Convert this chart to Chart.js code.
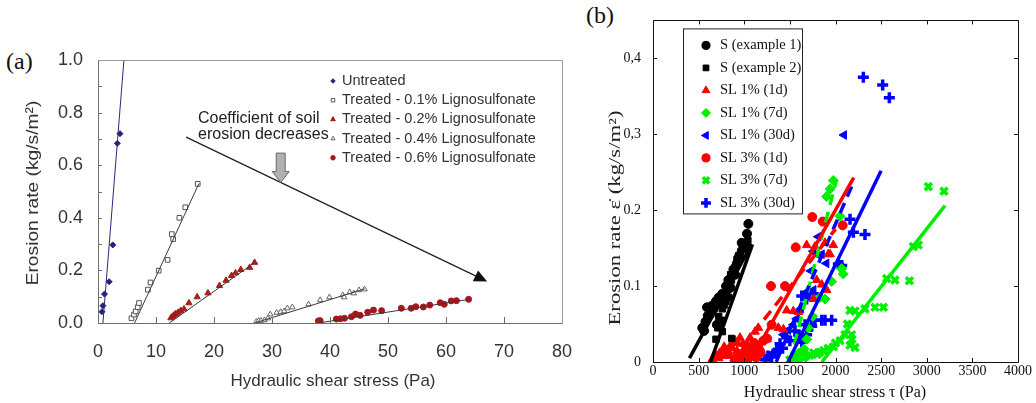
<!DOCTYPE html>
<html>
<head>
<meta charset="utf-8">
<title>Erosion rate vs hydraulic shear stress</title>
<script src="https://cdn.jsdelivr.net/npm/chart.js@4.4.1/dist/chart.umd.min.js"></script>
<style>
  body { margin: 0; background: #fff; width: 1036px; height: 403px; position: relative; overflow: hidden; }
  canvas { position: absolute; top: 0; }
  #chartA { left: 0; }
  #chartB { left: 580px; }
  .tag { position: absolute; font-family: "Liberation Serif", "Times New Roman", serif; font-size: 24px; line-height: 24px; color: #111; }
</style>
</head>
<body>
<div class="tag" style="left:6px; top:49px">(a)</div>
<div class="tag" style="left:586px; top:3px">(b)</div>
<canvas id="chartA" width="590" height="403"></canvas>
<canvas id="chartB" width="456" height="403"></canvas>
<script>
/* ---- (a) lignosulfonate dosage, [shear stress Pa, erosion rate kg/s/m2] ---- */
const untreatedPts = [[0.68,0.043],[0.85,0.066],[1.12,0.11],[1.92,0.157],[2.55,0.297],[3.33,0.683],[3.79,0.72]];
const ligno01Pts = [[5.77,0.018],[6.2,0.032],[6.5,0.044],[6.85,0.06],[7.07,0.076],[8.6,0.127],[9.05,0.154],
  [10.47,0.199],[12.0,0.24],[12.73,0.338],[12.96,0.319],[14.03,0.40],[15.05,0.44],[17.2,0.529]];
const ligno02Pts = [[12.56,0.019],[12.85,0.025],[13.13,0.03],[13.41,0.035],[13.81,0.04],[14.26,0.047],[14.83,0.053],
  [15.68,0.076],[17.09,0.099],[18.96,0.114],[20.94,0.142],[22.07,0.162],[23.03,0.18],[23.71,0.19],[24.62,0.203],
  [26.15,0.211],[27.0,0.23]];
const ligno04Pts = [[27.3,0.005],[27.7,0.008],[28.1,0.009],[28.7,0.011],[29.3,0.018],[29.7,0.033],[30.8,0.039],
  [31.5,0.042],[32.1,0.045],[32.65,0.056],[33.5,0.06],[36.3,0.071],[38.3,0.087],[39.9,0.098],[42.2,0.106],
  [42.45,0.098],[43.4,0.117],[44.1,0.113],[45.0,0.125],[45.95,0.128]];
const ligno06Pts = [[38.0,0.008],[38.3,0.009],[41.1,0.015],[41.8,0.016],[42.5,0.018],[43.7,0.024],[44.4,0.034],
  [45.2,0.029],[46.5,0.041],[47.5,0.049],[48.9,0.047],[52.3,0.056],[54.0,0.056],[54.8,0.062],[56.1,0.061],
  [57.2,0.068],[59.0,0.077],[59.7,0.071],[60.9,0.084],[61.8,0.085],[63.9,0.09]];

// fitted lines (end points)
const untreatedFit = [[0.85,0],[4.47,1.0]];
const ligno01Fit = [[6.3,0],[17.4,0.53]];
const ligno02Fit = [[12.3,0],[27.0,0.23]];
const ligno04Fit = [[27.0,0],[46.0,0.13]];
const ligno06Fit = [[38.0,0],[64.0,0.09]];

const xTicksA = [0, 80, 10];           // min, max, step
const yTicksA = [0, 1, 0.1];

/* ---- (b) sand vs sand + lignosulfonate, [shear stress Pa, erosion rate kg/s/m2] ---- */
const sEx1Pts = [[540,0.045],[560,0.041],[575,0.053],[600,0.061],[592,0.072],[622,0.062],[645,0.074],[665,0.07],
  [700,0.049],[690,0.08],[720,0.085],[742,0.078],[760,0.09],[789,0.089],[800,0.1],[826,0.108],[850,0.098],
  [881,0.122],[900,0.115],[920,0.13],[945,0.14],[972,0.157],[990,0.15],[1030,0.169],[1045,0.182]];
const sEx2Pts = [[690,0.03],[862,0.031],[710,0.045],[730,0.05],[760,0.04],[720,0.06],[750,0.055],[760,0.07],
  [780,0.075],[800,0.08],[790,0.09],[830,0.085],[820,0.095],[840,0.1],[860,0.108],[850,0.115],[880,0.12],
  [900,0.125],[920,0.135],[940,0.14],[960,0.145],[980,0.15],[1000,0.155],[1020,0.157],[1040,0.16]];
const sl1d1Pts = [[650,0.004],[680,0.01],[698,0.007],[720,0.005],[730,0.012],[760,0.008],[767,0.015],[780,0.02],
  [800,0.01],[820,0.015],[840,0.02],[850,0.008],[870,0.018],[880,0.025],[900,0.028],[920,0.015],[930,0.025],
  [953,0.032],[986,0.024],[1020,0.02],[1040,0.01],[1063,0.032],[1100,0.015],[1118,0.04],[1154,0.045],[1173,0.019],
  [1250,0.03],[1374,0.045],[1429,0.043],[1465,0.068],[1538,0.067],[1593,0.066],[1684,0.154],[1775,0.152],
  [1794,0.108],[1849,0.102],[1758,0.083],[1885,0.157],[1921,0.142],[1903,0.095],[1976,0.154],[1940,0.142]];
const sl1d7Pts = [[1550,0.005],[1600,0.012],[1655,0.017],[1684,0.03],[1700,0.045],[1750,0.06],[1830,0.085],
  [1885,0.083],[1958,0.106],[2068,0.123],[2085,0.116],[2049,0.192],[1903,0.218],[1940,0.228],[1976,0.239]];
const sl1d30Pts = [[1429,0.036],[1480,0.042],[1538,0.049],[1575,0.057],[1620,0.07],[1666,0.091],[1700,0.089],
  [1758,0.095],[1730,0.12],[1758,0.146],[1794,0.142],[1812,0.165],[1849,0.142],[1900,0.13],[2093,0.299]];
const sl3d1Pts = [[900,0.003],[930,0.01],[960,0.004],[989,0.007],[1026,0.003],[1000,0.013],[1040,0.02],
  [1063,0.015],[1090,0.01],[1110,0.025],[1130,0.006],[1150,0.02],[1180,0.012],[1209,0.028],[1250,0.031],
  [1300,0.049],[1293,0.1],[1447,0.1],[1564,0.151],[1746,0.191],[1860,0.185],[2079,0.18]];
const sl3d7Pts = [[1500,0.003],[1560,0.004],[1600,0.006],[1648,0.005],[1680,0.008],[1720,0.009],[1760,0.012],
  [1800,0.01],[1830,0.013],[1870,0.015],[1920,0.018],[1976,0.02],[2000,0.025],[2050,0.028],[2104,0.036],
  [2130,0.05],[2159,0.022],[2180,0.03],[2177,0.036],[2214,0.019],[2159,0.068],[2214,0.067],[2323,0.07],
  [2433,0.072],[2525,0.072],[2561,0.11],[2652,0.108],[2810,0.107],[2853,0.152],[2908,0.154],[3017,0.231],[3189,0.225]];
const sl3d30Pts = [[1227,0.003],[1260,0.008],[1300,0.007],[1330,0.012],[1356,0.015],[1392,0.024],[1420,0.018],
  [1465,0.032],[1500,0.028],[1556,0.041],[1600,0.035],[1630,0.026],[1666,0.049],[1684,0.036],[1739,0.047],
  [1775,0.055],[1849,0.055],[1885,0.055],[1958,0.055],[1630,0.087],[1684,0.083],[1758,0.09],[2031,0.129],
  [2068,0.127],[2159,0.188],[2196,0.171],[2323,0.168],[2305,0.375],[2517,0.365],[2590,0.348]];

// fitted lines (end points)
const sEx1Fit = [[400,0.005],[1080,0.155]];
const sEx2Fit = [[630,0],[1090,0.155]];
const sl3d1Fit = [[1060,0],[2200,0.243]];
const sl1d1Fit = [[850,0],[2000,0.175]];
const sl3d30Fit = [[1480,0],[2500,0.252]];
const sl1d30Fit = [[1350,0],[2190,0.235]];
const sl1d7Fit = [[1500,0],[2010,0.24]];
const sl3d7Fit = [[1850,0],[3200,0.206]];

const xTicksB = [0, 4000, 500];
const yTicksB = [0, 0.45, 0.1];
const yLabelsB = ["0", "0.1", "0.2", "0,3", "0,4"];

const SANS = "'Liberation Sans', Arial, sans-serif";
const SERIF = "'Liberation Serif', 'Times New Roman', serif";

const toXY = (list) => list.map(([x, y]) => ({ x, y }));

function pointSet(label, list, style) {
  return Object.assign({ label, data: toXY(list), showLine: false, order: 1 }, style);
}

function fitSet(list, color, width, dash) {
  return {
    data: toXY(list), showLine: true, pointRadius: 0, borderColor: color,
    borderWidth: width, borderDash: dash || [], order: 0
  };
}

// box round the plot area, with short inward tick marks
const frameTicks = {
  id: "frameTicks",
  afterDatasetsDraw(chart, args, o) {
    const { ctx, chartArea: a, scales: { x, y } } = chart;
    ctx.save();
    ctx.lineWidth = 1;
    ctx.strokeStyle = o.color;
    ctx.beginPath();
    x.ticks.forEach((t) => {
      const px = Math.round(x.getPixelForValue(t.value)) + 0.5;
      ctx.moveTo(px, a.bottom); ctx.lineTo(px, a.bottom - o.lenX);
      if (o.allSides) { ctx.moveTo(px, a.top); ctx.lineTo(px, a.top + o.lenX); }
    });
    y.ticks.forEach((t) => {
      const py = Math.round(y.getPixelForValue(t.value)) + 0.5;
      ctx.moveTo(a.left, py); ctx.lineTo(a.left + o.lenY, py);
      if (o.allSides) { ctx.moveTo(a.right, py); ctx.lineTo(a.right - o.lenY, py); }
    });
    ctx.stroke();
    const l = Math.round(a.left) + 0.5, r = Math.round(a.right) + 0.5;
    const t = Math.round(a.top) + 0.5, b = Math.round(a.bottom) + 0.5;
    ctx.strokeStyle = o.edgeColor || o.color;
    ctx.beginPath();
    ctx.moveTo(l, t); ctx.lineTo(r, t); ctx.lineTo(r, b);
    ctx.stroke();
    ctx.strokeStyle = o.color;
    ctx.beginPath();
    ctx.moveTo(l, t); ctx.lineTo(l, b); ctx.lineTo(r, b);
    ctx.stroke();
    ctx.restore();
  }
};

// legend drawn inside the plot from the labelled datasets
const keyList = {
  id: "keyList",
  afterDraw(chart, args, o) {
    const { ctx, chartArea: a } = chart;
    const sets = chart.data.datasets.filter((d) => d.label);
    ctx.save();
    if (o.box) {
      ctx.fillStyle = "#fff";
      ctx.strokeStyle = "#222";
      ctx.lineWidth = 1;
      ctx.fillRect(a.left + o.box[0], a.top + o.box[1], o.box[2], o.box[3]);
      ctx.strokeRect(a.left + o.box[0] + 0.5, a.top + o.box[1] + 0.5, o.box[2], o.box[3]);
    }
    ctx.font = o.font;
    ctx.textBaseline = "middle";
    ctx.textAlign = "left";
    sets.forEach((d, i) => {
      const yy = a.top + o.top + i * o.gap;
      ctx.fillStyle = d.backgroundColor;
      ctx.strokeStyle = d.borderColor;
      ctx.lineWidth = d.borderWidth;
      Chart.helpers.drawPoint(ctx, {
        pointStyle: d.pointStyle, rotation: d.pointRotation || 0,
        radius: d.pointRadius * o.markScale, borderWidth: d.borderWidth
      }, a.left + o.markX, yy);
      ctx.fillStyle = o.color;
      ctx.fillText(d.label, a.left + o.textX, yy);
    });
    ctx.restore();
  }
};

// axis titles and notes, optionally stretched along the text
const captions = {
  id: "captions",
  afterDraw(chart, args, o) {
    const ctx = chart.ctx;
    o.items.forEach((c) => {
      ctx.save();
      ctx.font = c.font;
      ctx.fillStyle = c.color || "#000";
      ctx.textAlign = c.align || "center";
      ctx.textBaseline = "middle";
      ctx.translate(c.x, c.y);
      if (c.vertical) ctx.rotate(-Math.PI / 2);
      ctx.scale(c.stretch || 1, 1);
      ctx.fillText(c.text, 0, 0);
      ctx.restore();
    });
  }
};

// "coefficient decreases" arrows of panel (a)
const trendArrows = {
  id: "trendArrows",
  afterDraw(chart, args, o) {
    const { ctx, scales: { x, y } } = chart;
    const x0 = x.getPixelForValue(o.from[0]), y0 = y.getPixelForValue(o.from[1]);
    const x1 = x.getPixelForValue(o.to[0]), y1 = y.getPixelForValue(o.to[1]);
    const ang = Math.atan2(y1 - y0, x1 - x0);
    ctx.save();
    ctx.strokeStyle = "#222";
    ctx.fillStyle = "#111";
    ctx.lineWidth = 1.3;
    ctx.beginPath();
    ctx.moveTo(x0, y0);
    ctx.lineTo(x1 - 10 * Math.cos(ang), y1 - 10 * Math.sin(ang));
    ctx.stroke();
    ctx.beginPath();
    ctx.moveTo(x1, y1);
    ctx.lineTo(x1 - 13 * Math.cos(ang) + 6 * Math.sin(ang), y1 - 13 * Math.sin(ang) - 6 * Math.cos(ang));
    ctx.lineTo(x1 - 13 * Math.cos(ang) - 6 * Math.sin(ang), y1 - 13 * Math.sin(ang) + 6 * Math.cos(ang));
    ctx.closePath();
    ctx.fill();
    // grey block arrow pointing down
    const gx = x.getPixelForValue(o.block[0]);
    const gt = y.getPixelForValue(o.block[1]), gb = y.getPixelForValue(o.block[2]);
    const neck = gb - 11;
    ctx.fillStyle = "#b0b0b0";
    ctx.strokeStyle = "#6a6a6a";
    ctx.lineWidth = 1;
    ctx.beginPath();
    ctx.moveTo(gx - 4.5, gt); ctx.lineTo(gx + 4.5, gt); ctx.lineTo(gx + 4.5, neck);
    ctx.lineTo(gx + 8.5, neck); ctx.lineTo(gx, gb); ctx.lineTo(gx - 8.5, neck);
    ctx.lineTo(gx - 4.5, neck); ctx.closePath();
    ctx.fill(); ctx.stroke();
    ctx.restore();
  }
};

/* ---------- panel (a) ---------- */
const lineA = "#3a3a3a";
new Chart(document.getElementById("chartA"), {
  type: "scatter",
  data: {
    datasets: [
      pointSet("Untreated", untreatedPts, { pointStyle: "rectRot", pointRadius: 3, backgroundColor: "#23237a", borderColor: "#23237a", borderWidth: 1 }),
      pointSet("Treated - 0.1% Lignosulfonate", ligno01Pts, { pointStyle: "rect", pointRadius: 3.3, backgroundColor: "#fff", borderColor: "#555", borderWidth: 1 }),
      pointSet("Treated - 0.2% Lignosulfonate", ligno02Pts, { pointStyle: "triangle", pointRadius: 3.6, backgroundColor: "#b01e1e", borderColor: "#a01818", borderWidth: 1 }),
      pointSet("Treated - 0.4% Lignosulfonate", ligno04Pts, { pointStyle: "triangle", pointRadius: 3.2, backgroundColor: "#fff", borderColor: "#666", borderWidth: 1 }),
      pointSet("Treated - 0.6% Lignosulfonate", ligno06Pts, { pointStyle: "circle", pointRadius: 3, backgroundColor: "#a8161b", borderColor: "#a8161b", borderWidth: 1 }),
      fitSet(untreatedFit, "#2a2a80", 1),
      fitSet(ligno01Fit, lineA, 1),
      fitSet(ligno02Fit, lineA, 1),
      fitSet(ligno04Fit, lineA, 1),
      fitSet(ligno06Fit, lineA, 1)
    ]
  },
  options: {
    responsive: false,
    animation: false,
    events: [],
    layout: { padding: { left: 0, top: 60, right: 22, bottom: 0 } },
    scales: {
      x: {
        type: "linear", min: xTicksA[0], max: xTicksA[1],
        grid: { display: false, drawTicks: false }, border: { display: false },
        ticks: {
          stepSize: xTicksA[2], autoSkip: false, maxRotation: 0, padding: 18, color: "#333", font: { family: SANS, size: 18 },
          callback: (v) => String(v)
        },
        afterFit: (s) => { s.height = 80; }
      },
      y: {
        type: "linear", min: yTicksA[0], max: yTicksA[1],
        grid: { display: false, drawTicks: false }, border: { display: false },
        ticks: {
          stepSize: yTicksA[2], autoSkip: false, padding: 15, color: "#333", font: { family: SANS, size: 18 },
          callback: (v, i) => (i % 2 ? "" : v.toFixed(1))
        },
        afterFit: (s) => { s.width = 98; }
      }
    },
    plugins: {
      legend: { display: false },
      tooltip: { enabled: false },
      frameTicks: { color: "#6e6e6e", edgeColor: "#9a9a9a", lenX: 6, lenY: 4, allSides: false },
      keyList: { font: "14.5px " + SANS, color: "#333", top: 21, gap: 19.2, markX: 235, textX: 244, markScale: 0.75 },
      trendArrows: { from: [15.2, 0.707], to: [67.1, 0.158], block: [31.5, 0.646, 0.534] },
      captions: {
        items: [
          { text: "Coefficient of soil", x: 198, y: 119, align: "left", font: "16px " + SANS, color: "#222" },
          { text: "erosion decreases", x: 198, y: 134.5, align: "left", font: "16px " + SANS, color: "#222" },
          { text: "Hydraulic shear stress (Pa)", x: 333, y: 381, font: "17px " + SANS, color: "#333" },
          { text: "Erosion rate (kg/s/m\u00b2)", x: 33, y: 193, vertical: true, stretch: 1.13, font: "17px " + SANS, color: "#333" }
        ]
      }
    }
  },
  plugins: [frameTicks, trendArrows, keyList, captions]
});

/* ---------- panel (b) ---------- */
const RED = "#ff0000", GREEN = "#00ee00", BLUE = "#0000ff";
new Chart(document.getElementById("chartB"), {
  type: "scatter",
  data: {
    datasets: [
      pointSet("S (example 1)", sEx1Pts, { pointStyle: "circle", pointRadius: 4.5, backgroundColor: "#000", borderColor: "#000", borderWidth: 1 }),
      pointSet("S (example 2)", sEx2Pts, { pointStyle: "rect", pointRadius: 4.5, backgroundColor: "#000", borderColor: "#000", borderWidth: 1 }),
      pointSet("SL 1% (1d)", sl1d1Pts, { pointStyle: "triangle", pointRadius: 5, backgroundColor: RED, borderColor: RED, borderWidth: 1 }),
      pointSet("SL 1% (7d)", sl1d7Pts, { pointStyle: "rectRot", pointRadius: 5, backgroundColor: GREEN, borderColor: GREEN, borderWidth: 1 }),
      pointSet("SL 1% (30d)", sl1d30Pts, { pointStyle: "triangle", pointRotation: -90, pointRadius: 5, backgroundColor: BLUE, borderColor: BLUE, borderWidth: 1 }),
      pointSet("SL 3% (1d)", sl3d1Pts, { pointStyle: "circle", pointRadius: 4.5, backgroundColor: RED, borderColor: RED, borderWidth: 1 }),
      pointSet("SL 3% (7d)", sl3d7Pts, { pointStyle: "crossRot", pointRadius: 5, backgroundColor: GREEN, borderColor: GREEN, borderWidth: 3.5 }),
      pointSet("SL 3% (30d)", sl3d30Pts, { pointStyle: "cross", pointRadius: 5.5, backgroundColor: BLUE, borderColor: BLUE, borderWidth: 3.5 }),
      fitSet(sEx1Fit, "#000", 3.5),
      fitSet(sEx2Fit, "#000", 3.5),
      fitSet(sl3d1Fit, RED, 3.5),
      fitSet(sl1d1Fit, RED, 3.5, [11, 7]),
      fitSet(sl3d30Fit, BLUE, 3.5),
      fitSet(sl1d30Fit, BLUE, 3.5, [11, 7]),
      fitSet(sl1d7Fit, GREEN, 3.5, [11, 7]),
      fitSet(sl3d7Fit, GREEN, 3.5)
    ]
  },
  options: {
    responsive: false,
    animation: false,
    events: [],
    layout: { padding: { left: 0, top: 7, right: 18, bottom: 0 } },
    scales: {
      x: {
        type: "linear", min: xTicksB[0], max: xTicksB[1],
        grid: { display: false, drawTicks: false }, border: { display: false },
        ticks: {
          stepSize: xTicksB[2], autoSkip: false, maxRotation: 0, padding: 1, color: "#111", font: { family: SERIF, size: 14 },
          callback: (v) => String(v)
        },
        afterFit: (s) => { s.height = 41; }
      },
      y: {
        type: "linear", min: yTicksB[0], max: yTicksB[1],
        grid: { display: false, drawTicks: false }, border: { display: false },
        afterBuildTicks: (s) => { s.ticks = s.ticks.filter((t) => t.value <= 0.4 + 1e-9); },
        ticks: {
          stepSize: yTicksB[2], autoSkip: false, padding: 12, color: "#111", font: { family: SERIF, size: 14 },
          callback: (v, i) => yLabelsB[i] || ""
        },
        afterFit: (s) => { s.width = 73; }
      }
    },
    plugins: {
      legend: { display: false },
      tooltip: { enabled: false },
      frameTicks: { color: "#111", lenX: 4, lenY: 4, allSides: true },
      keyList: { box: [30, 8, 119, 185], font: "14.5px " + SERIF, color: "#111", top: 25, gap: 22.5, markX: 53, textX: 67, markScale: 0.9 },
      captions: {
        items: [
          { text: "Hydraulic shear stress \u03c4 (Pa)", x: 255, y: 393, font: "16px " + SERIF, color: "#111" },
          { text: "Erosion rate \u03b5\u0307 (kg/s/m\u00b2)", x: 36, y: 218, vertical: true, stretch: 1.42, font: "16px " + SERIF, color: "#222" }
        ]
      }
    }
  },
  plugins: [frameTicks, keyList, captions]
});
</script>
</body>
</html>
